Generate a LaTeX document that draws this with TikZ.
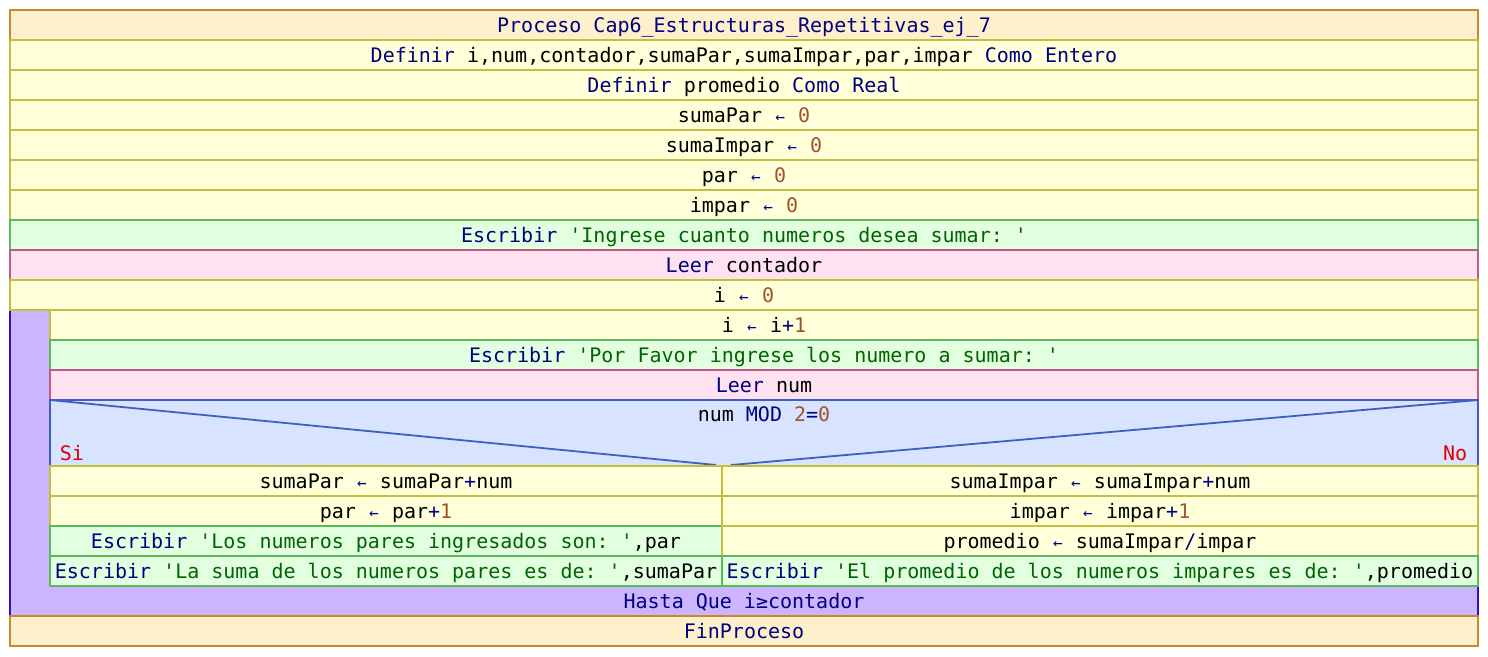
\documentclass[tikz,border=0pt]{standalone}
\usepackage{fontspec}
\setmonofont{DejaVu Sans Mono}
\usetikzlibrary{calc}

\definecolor{kwblue}{HTML}{000080}
\definecolor{numbrown}{HTML}{A0522D}
\definecolor{strgreen}{HTML}{006400}
\definecolor{sired}{HTML}{DD0000}
\definecolor{procfill}{HTML}{FFF0CC}
\definecolor{procdraw}{HTML}{C8882E}
\definecolor{asgfill}{HTML}{FFFFD9}
\definecolor{asgdraw}{HTML}{C4BE40}
\definecolor{outfill}{HTML}{E2FFE0}
\definecolor{outdraw}{HTML}{5CB85C}
\definecolor{infill}{HTML}{FFE2F0}
\definecolor{indraw}{HTML}{C05C8C}
\definecolor{decfill}{HTML}{D8E4FF}
\definecolor{decdraw}{HTML}{3F5FC0}
\definecolor{loopfill}{HTML}{CCB4FF}
\definecolor{loopdraw}{HTML}{3010C0}

\newcommand{\pkw}[1]{\textcolor{kwblue}{#1}}
\newcommand{\pnum}[1]{\textcolor{numbrown}{#1}}
\newcommand{\pstr}[1]{\textcolor{strgreen}{#1}}
\newcommand{\asig}{\makebox[12pt]{\textcolor{kwblue}{\fontsize{16}{16}\selectfont ←}}}

\tikzset{
  cell/.style={inner sep=0pt, minimum height=30pt, line width=1.5pt,
    font=\ttfamily\fontsize{20}{24}\selectfont, text height=17pt, text depth=2pt},
  procrow/.style={cell, draw=procdraw, fill=procfill, text=kwblue},
  asgrow/.style={cell, draw=asgdraw, fill=asgfill},
  outrow/.style={cell, draw=outdraw, fill=outfill},
  inrow/.style={cell, draw=indraw, fill=infill},
  full/.style={minimum width=1468pt},
  inner/.style={minimum width=1428pt},
  lefthalf/.style={minimum width=672pt},
  righthalf/.style={minimum width=756pt},
}

\begin{document}
\begin{tikzpicture}[x=1pt, y=-1pt]
	\useasboundingbox (0,0) rectangle (1488,656);

	% Loop body (drawn first, rows go on top)
	\draw[line width=1.5pt, draw=loopdraw, fill=loopfill] (10,310) rectangle (1478,616);

	% Header and declarations
	\node[procrow, full] (proc) at (744,25) {Proceso Cap6\_Estructuras\_Repetitivas\_ej\_7};
	\node[asgrow, full] (def1) at (744,55) {\pkw{Definir} i,num,contador,sumaPar,sumaImpar,par,impar \pkw{Como Entero}};
	\node[asgrow, full] (def2) at (744,85) {\pkw{Definir} promedio \pkw{Como Real}};
	\node[asgrow, full] (set1) at (744,115) {sumaPar \asig{} \pnum{0}};
	\node[asgrow, full] (set2) at (744,145) {sumaImpar \asig{} \pnum{0}};
	\node[asgrow, full] (set3) at (744,175) {par \asig{} \pnum{0}};
	\node[asgrow, full] (set4) at (744,205) {impar \asig{} \pnum{0}};
	\node[outrow, full] (out1) at (744,235) {\pkw{Escribir} \pstr{'Ingrese cuanto numeros desea sumar: '}};
	\node[inrow, full] (read1) at (744,265) {\pkw{Leer} contador};
	\node[asgrow, full] (set5) at (744,295) {i \asig{} \pnum{0}};

	% Rows inside the loop
	\node[asgrow, inner] (inc) at (764,325) {i \asig{} i\pkw{+}\pnum{1}};
	\node[outrow, inner] (out2) at (764,355) {\pkw{Escribir} \pstr{'Por Favor ingrese los numero a sumar: '}};
	\node[inrow, inner] (read2) at (764,385) {\pkw{Leer} num};

	% Decision
	\draw[line width=1.5pt, draw=decdraw, fill=decfill] (50,400) rectangle (1478,466);
	\draw[line width=1.8pt, draw=decdraw] (50,400) -- (716,465);
	\draw[line width=1.8pt, draw=decdraw] (1478,400) -- (731,465);
	\node[cell] (cond) at (764,414) {num \pkw{MOD} \pnum{2}\pkw{=}\pnum{0}};
	\node[cell, anchor=west, text=sired] (si) at (59,453) {Si};
	\node[cell, anchor=east, text=sired] (no) at (1468,453) {No};

	% Si branch
	\node[asgrow, lefthalf] (sil1) at (386,481) {sumaPar \asig{} sumaPar\pkw{+}num};
	\node[asgrow, lefthalf] (sil2) at (386,511) {par \asig{} par\pkw{+}\pnum{1}};
	\node[outrow, lefthalf] (sil3) at (386,541) {\pkw{Escribir} \pstr{'Los numeros pares ingresados son: '},par};
	\node[outrow, lefthalf] (sil4) at (386,571) {\pkw{Escribir} \pstr{'La suma de los numeros pares es de: '},sumaPar};

	% No branch
	\node[asgrow, righthalf] (nol1) at (1100,481) {sumaImpar \asig{} sumaImpar\pkw{+}num};
	\node[asgrow, righthalf] (nol2) at (1100,511) {impar \asig{} impar\pkw{+}\pnum{1}};
	\node[asgrow, righthalf] (nol3) at (1100,541) {promedio \asig{} sumaImpar\pkw{/}impar};
	\node[outrow, righthalf] (nol4) at (1100,571) {\pkw{Escribir} \pstr{'El promedio de los numeros impares es de: '},promedio};

	% Loop end and footer
	\node[cell, text=kwblue] (until) at (744,601) {Hasta Que i≥contador};
	\node[procrow, full] (fin) at (744,631) {FinProceso};
\end{tikzpicture}
\end{document}
